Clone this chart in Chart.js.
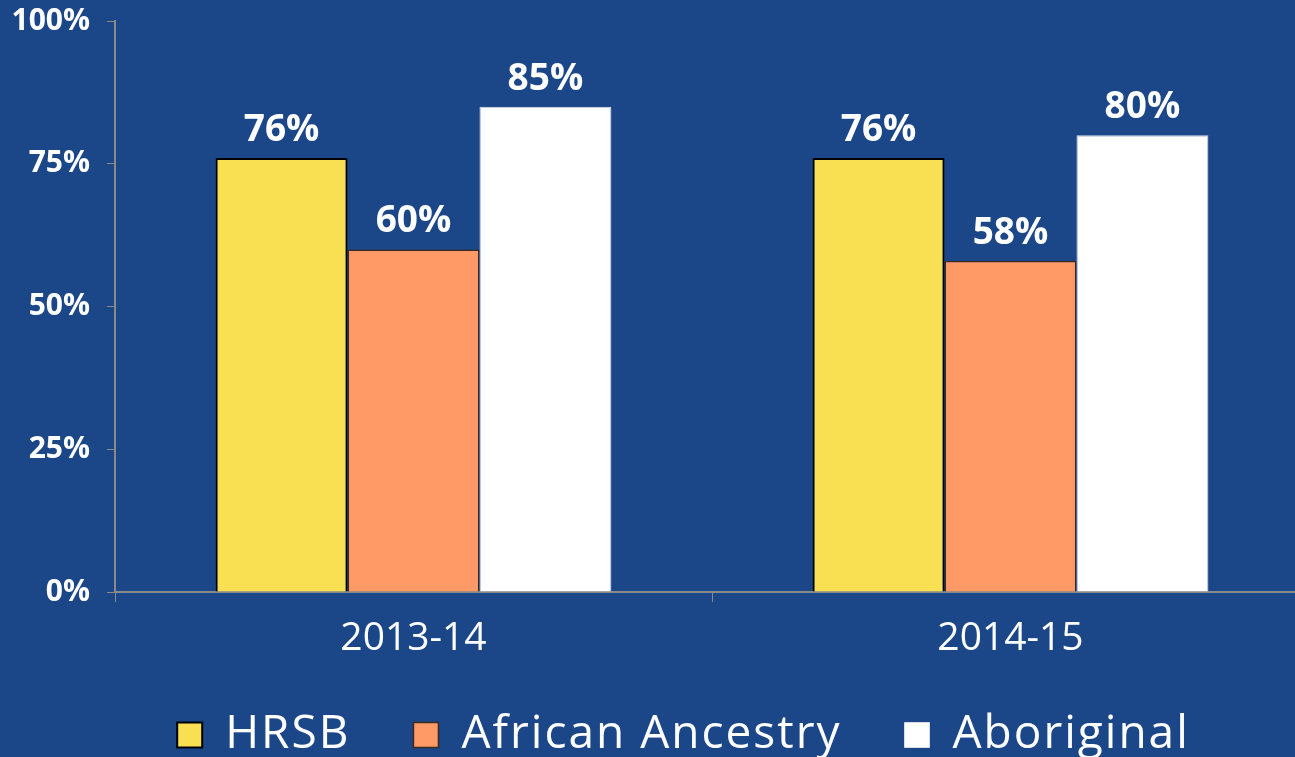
<!DOCTYPE html>
<html>
<head>
<meta charset="utf-8">
<script src="https://cdn.jsdelivr.net/npm/chart.js@4"></script>
<style>
  html, body { margin: 0; padding: 0; background: #1B4789; overflow: hidden; }
  #wrap { width: 1310px; height: 757px; position: relative; }
</style>
</head>
<body>
<div id="wrap"><canvas id="c"></canvas></div>
<script>
const categories = ["2013-14", "2014-15"];
const seriesNames = ["HRSB", "African Ancestry", "Aboriginal"];
const hrsb = [76, 76];
const africanAncestry = [60, 58];
const aboriginal = [85, 80];
const yTicks = [0, 25, 50, 75, 100];

const LEGEND_SPACING = '2px';

const helper = {
  id: 'helper',
  beforeLayout(chart) {
    const lg = chart.legend;
    if (lg && !lg._patched) {
      const origFit = lg.fit.bind(lg);
      const origDraw = lg.draw.bind(lg);
      lg.fit = function () {
        this.ctx.save();
        this.ctx.letterSpacing = LEGEND_SPACING;
        origFit();
        this.ctx.restore();
        this.height = 0;
      };
      lg.draw = function (area) {
        this.ctx.save();
        this.ctx.letterSpacing = LEGEND_SPACING;
        origDraw(area);
        this.ctx.restore();
      };
      lg._patched = true;
    }
  },
  afterLayout(chart) {
    const lg = chart.legend;
    if (lg) {
      lg.top = 649;
      lg.bottom = 757;
      lg.height = lg.bottom - lg.top;
      lg.left += 29;
      lg.right += 29;
    }
  },
  afterDatasetsDraw(chart) {
    const ctx = chart.ctx;
    ctx.save();
    ctx.fillStyle = '#ffffff';
    ctx.font = 'bold 37px "Open Sans"';
    ctx.textAlign = 'center';
    ctx.textBaseline = 'alphabetic';
    chart.data.datasets.forEach((ds, i) => {
      chart.getDatasetMeta(i).data.forEach((bar, j) => {
        ctx.fillText(ds.data[j] + '%', bar.x, bar.y - 17);
      });
    });
    ctx.restore();
  }
};

new Chart(document.getElementById('c'), {
  type: 'bar',
  data: {
    labels: categories,
    datasets: [
      { label: seriesNames[0], data: hrsb, backgroundColor: '#F9DF52', borderColor: '#000000', borderWidth: 2 },
      { label: seriesNames[1], data: africanAncestry, backgroundColor: '#FF9966', borderColor: '#3a2a20', borderWidth: 1.5 },
      { label: seriesNames[2], data: aboriginal, backgroundColor: '#FFFFFF', borderColor: '#d8dce6', borderWidth: 1 }
    ]
  },
  options: {
    responsive: true,
    maintainAspectRatio: false,
    animation: false,
    layout: { padding: { top: 21, left: 0, right: 1, bottom: 0 } },
    datasets: { bar: { categoryPercentage: 0.663, barPercentage: 1.0 } },
    plugins: {
      tooltip: { enabled: false },
      legend: {
        position: 'bottom',
        labels: {
          color: '#ffffff',
          font: { family: '"Open Sans"', size: 46 },
          boxWidth: 25,
          boxHeight: 25,
          padding: 63,
          useBorderRadius: false
        }
      }
    },
    scales: {
      x: {
        grid: { drawOnChartArea: false, drawTicks: true, tickLength: 10, color: '#8a8a8a', offset: true },
        border: { color: '#8a8a8a', width: 2 },
        ticks: { color: '#ffffff', font: { family: '"Open Sans"', size: 39 }, padding: 13 },
        afterFit(s) { s.height = 165; }
      },
      y: {
        min: 0, max: 100,
        afterBuildTicks(s) { s.ticks = yTicks.map(v => ({ value: v })); },
        grid: { drawOnChartArea: false, drawTicks: true, tickLength: 8, color: '#8a8a8a' },
        border: { color: '#8a8a8a', width: 2 },
        ticks: { color: '#ffffff', font: { family: '"Open Sans"', size: 30, weight: 'bold' }, padding: 17, callback: v => v + '%' },
        afterFit(s) { s.width = 115; s.paddingTop = 0; s.paddingBottom = 0; }
      }
    }
  },
  plugins: [helper]
});
</script>
</body>
</html>
